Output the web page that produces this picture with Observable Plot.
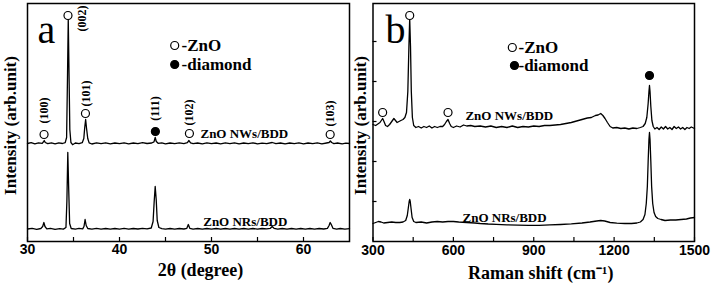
<!DOCTYPE html>
<html>
<head>
<meta charset="utf-8">
<script src="https://cdn.jsdelivr.net/npm/d3@7"></script>
<script src="https://cdn.jsdelivr.net/npm/@observablehq/plot@0.6"></script>
<style>
  html, body { margin: 0; padding: 0; background: white; }
  #wrap { position: relative; width: 711px; height: 284px; overflow: hidden; }
</style>
</head>
<body>
<div id="wrap"></div>
<script>
// ---------- Panel a: XRD (2θ in degree, intensity in arb. units) ----------
const xrdNWs = [
[30.0,98],[30.4,98.8],[30.8,97.6],[31.2,98.6],[31.6,98.2],[31.72,99.5],[31.82,101],[31.93,99],[32.2,97.8],[32.6,98.7],[33.0,97.7],[33.4,98.6],[33.8,98],[34.1,98.8],[34.25,104],[34.34,160],[34.43,223],[34.51,170],[34.6,112],[34.72,99],[34.9,96.8],[35.2,98.5],[35.6,97.8],[35.95,98.8],[36.12,103],[36.22,114],[36.32,122],[36.42,113],[36.55,103],[36.7,98.6],[37.0,97.5],[37.5,98.6],[38.0,97.9],[38.5,98.7],[39.0,97.7],[39.5,98.5],[40.0,97.9],[40.5,98.7],[41.0,97.7],[41.5,98.5],[42.0,97.9],[42.5,98.8],[43.0,98],[43.5,98.5],[43.75,99.6],[43.88,104],[44.0,100],[44.2,98.2],[44.6,98.7],[45.0,97.7],[45.5,98.5],[46.0,97.9],[46.5,98.6],[47.0,97.9],[47.38,98.8],[47.55,101],[47.72,98.6],[48.0,97.9],[48.5,98.5],[49.0,97.7],[49.5,98.6],[50.0,97.9],[50.5,98.5],[51.0,97.7],[51.5,98.6],[52.0,97.9],[52.5,98.7],[53.0,97.7],[53.5,98.5],[54.0,97.9],[54.5,98.7],[55.0,97.7],[55.5,98.4],[56.0,97.9],[56.6,99],[57.0,97.9],[57.5,98.5],[58.0,97.7],[58.5,98.5],[59.0,97.9],[59.5,98.6],[60.0,97.7],[60.5,98.5],[61.0,97.9],[61.5,98.6],[62.0,97.7],[62.5,98.5],[62.78,99],[62.92,100.5],[63.06,99],[63.3,97.9],[63.7,98.5],[64.2,97.7],[64.6,98.4],[65.0,98]
];
const xrdNRs = [
[30.0,12.5],[30.5,13.2],[31.0,12.2],[31.45,13],[31.65,15],[31.78,19],[31.9,15],[32.1,12.6],[32.5,13.2],[33.0,12.2],[33.5,12.9],[33.9,12.4],[34.18,14],[34.28,40],[34.38,89],[34.48,52],[34.58,18],[34.75,13],[35.2,12.4],[35.6,13.1],[36.0,12.6],[36.14,15],[36.26,22],[36.38,16],[36.55,13],[37.0,12.4],[37.5,13.1],[38.0,12.3],[38.5,13],[39.0,12.3],[39.5,13],[40.0,12.4],[40.5,13.1],[41.0,12.3],[41.5,13],[42.0,12.5],[42.5,13.1],[43.0,12.6],[43.45,13.5],[43.65,20],[43.77,40],[43.88,55],[43.99,42],[44.1,21],[44.28,14],[44.6,12.8],[45.0,12.3],[45.5,13],[46.0,12.4],[46.5,13],[47.0,12.5],[47.32,13.2],[47.48,17],[47.64,13.2],[48.0,12.4],[48.5,13],[49.0,12.3],[49.5,13],[50.0,12.4],[50.5,13],[51.0,12.3],[51.5,13],[52.0,12.4],[52.5,13],[53.0,12.3],[53.5,13],[54.0,12.4],[54.5,13],[55.0,12.3],[55.5,13],[56.0,12.6],[56.4,13.2],[56.6,15],[56.8,13.2],[57.2,12.4],[57.7,13],[58.2,12.3],[58.7,13],[59.2,12.4],[59.7,13],[60.2,12.3],[60.7,13],[61.2,12.4],[61.7,13],[62.2,12.5],[62.6,13.2],[62.78,16],[62.9,19],[63.02,17],[63.2,13.2],[63.6,12.4],[64.0,13],[64.5,12.3],[65.0,12.8]
];
// ZnO / diamond reflections marked above the NWs/BDD pattern
const xrdMarkX     = [31.8, 34.4, 36.3, 43.9, 47.6, 62.9];
const xrdMarkY     = [107, 226, 128, 110, 108, 107];
const xrdMarkKind  = ["ZnO", "ZnO", "ZnO", "diamond", "ZnO", "ZnO"];
const millerLabels = ["(100)", "(002)", "(101)", "(111)", "(102)", "(103)"];
const millerX      = [31.8, 35.9, 36.4, 43.9, 47.6, 62.9];
const millerY      = [131, 223, 148, 133, 129, 128];
const xTicksA      = [30, 35, 40, 45, 50, 55, 60];
const xLabelsA     = [30, 40, 50, 60];
const sampleNamesA = ["ZnO NWs/BDD", "ZnO NRs/BDD"];
const sampleXA     = [48.8, 49.1];
const sampleYA     = [108, 20];
const legendDotXA  = [46.0, 46.0];
const legendDotYA  = [196, 177];
const legendTextXA = 46.75;

// ---------- Panel b: Raman (cm-1, intensity in arb. units) ----------
const ramNWs = [
[300,117],[310,116],[318,117.5],[326,119],[331,121],[336,123],[341,120],[347,116],[354,115],[362,117],[370,120],[378,123],[384,121],[390,119],[397,120],[404,121],[412,122],[419,124],[425,129],[430,150],[434,195],[437,223],[440,195],[443,150],[447,124],[452,116],[460,114],[470,115],[480,113.5],[490,115],[500,114],[510,115.5],[520,113.5],[530,115],[540,114],[550,115],[560,115],[567,117],[574,120],[580,122],[586,118],[592,115],[600,114],[612,115.5],[625,114.5],[638,116.5],[650,115.5],[665,116],[680,115],[700,115.5],[720,114.5],[740,115.5],[760,114],[780,115],[800,114],[820,115.5],[840,114],[860,115],[880,114.5],[900,115.5],[920,115],[940,116],[960,116],[980,116.5],[1000,117],[1020,118],[1040,119],[1060,120.5],[1080,122],[1100,123.5],[1115,124],[1130,126],[1140,126.5],[1150,128],[1158,126],[1166,123],[1175,119],[1185,115],[1195,113.5],[1210,114],[1225,113],[1240,113.5],[1255,112.5],[1270,113.5],[1285,113],[1298,114],[1308,115],[1316,118],[1322,124],[1327,138],[1330,150],[1332,156],[1334,150],[1337,135],[1341,121],[1346,115],[1352,112.5],[1360,114],[1368,112],[1376,114.5],[1384,112.5],[1392,115],[1400,112.5],[1408,114],[1416,112],[1424,115],[1432,113],[1440,114.5],[1448,112.5],[1456,114],[1464,112],[1472,114],[1480,113],[1488,114.5],[1500,113]
];
const ramNRs = [
[300,18],[310,19],[320,20],[330,19.5],[340,18.5],[355,19],[370,19.5],[385,19],[400,19],[412,19.5],[422,21],[428,26],[432,34],[435,40],[437,42],[439,40],[442,33],[446,24],[452,20],[460,19],[480,19.5],[500,18.5],[520,19.5],[540,20],[560,19.5],[580,20],[600,20],[620,19.5],[650,19],[680,18.5],[700,18],[730,17.5],[760,17.2],[800,16.6],[840,16.4],[880,16.2],[920,16.2],[960,16.6],[1000,17],[1040,17.6],[1080,18.5],[1110,19.5],[1135,20.5],[1150,21],[1165,20.5],[1185,19],[1210,18.3],[1240,18],[1265,18],[1285,18.5],[1298,19.5],[1308,22],[1315,27],[1320,38],[1324,55],[1327,80],[1330,102],[1332,109],[1334,102],[1337,80],[1340,55],[1344,38],[1349,29],[1355,25],[1363,23],[1375,22],[1390,21],[1410,21.5],[1430,21.5],[1450,22],[1470,22.5],[1485,23.5],[1500,24]
];
const ramMarkX    = [336, 437, 580, 1332];
const ramMarkY    = [129, 226, 129, 166];
const ramMarkKind = ["ZnO", "ZnO", "ZnO", "diamond"];
const xTicksB     = [300, 450, 600, 750, 900, 1050, 1200, 1350, 1500];
const xLabelsB    = [300, 600, 900, 1200, 1500];
const yTicksB     = [40, 80, 120, 160, 200];
const sampleNamesB = ["ZnO NWs/BDD", "ZnO NRs/BDD"];
const sampleXB     = [645, 634];
const sampleYB     = [126, 24];
const legendDotXB  = [820, 828];
const legendDotYB  = [194, 176];
const legendTextXB = 843;

const legendLabels = ["-ZnO", "-diamond"];
const legendKinds  = ["ZnO", "diamond"];

// ---------- shared style ----------
const SERIF = "'Liberation Serif', 'Times New Roman', serif";
const SANS  = "'Liberation Sans', Arial, sans-serif";
const fillOf = k => k === "diamond" ? "black" : "white";

function panel({width, marginLeft, marginRight, domainX, lines, markX, markY, markKind,
                xTicks, xLabels, xTitle, titleSize, titleDx, titleDy, letter, letterDx,
                yLabelDx, samples, legend, extra = [], tickPad}) {
  const plotH = 284 - 3 - 43;
  return Plot.plot({
    width, height: 284, marginLeft, marginRight, marginTop: 3, marginBottom: 43,
    x: {domain: domainX, axis: null},
    y: {domain: [0, 238], axis: null},
    style: {background: "transparent", overflow: "visible", fontFamily: SERIF, fontWeight: "bold", color: "black"},
    marks: [
      ...lines.map(data => Plot.line(data, {x: d => d[0], y: d => d[1], stroke: "black", strokeWidth: 1.3})),
      Plot.dot(markX.map((x, i) => ({x, y: markY[i], k: markKind[i]})),
        {x: "x", y: "y", r: 4, stroke: "black", strokeWidth: 1.2, fill: d => fillOf(d.k)}),
      Plot.text(samples.names.map((t, i) => ({t, x: samples.x[i], y: samples.y[i]})),
        {x: "x", y: "y", text: "t", textAnchor: "start", fontSize: 13, fontWeight: "bold"}),
      Plot.dot(legend.dotX.map((x, i) => ({x, y: legend.dotY[i], k: legendKinds[i]})),
        {x: "x", y: "y", r: 4, stroke: "black", strokeWidth: 1.2, fill: d => fillOf(d.k)}),
      Plot.text(legendLabels.map((t, i) => ({t, y: legend.dotY[i]})),
        {x: () => legend.textX, y: "y", text: "t", textAnchor: "start", fontSize: 17, fontWeight: "bold"}),
      ...extra,
      Plot.text([letter], {frameAnchor: "top-left", dx: letterDx, dy: 39, lineAnchor: "bottom",
        textAnchor: "start", fontSize: 40, fontWeight: "normal"}),
      Plot.tickX(xTicks, {x: d => d, insetTop: plotH - 4, stroke: "black", strokeWidth: 1.2}),
      Plot.axisX({ticks: xLabels, tickSize: 0, tickPadding: tickPad, tickFormat: d => String(d),
        fontSize: 14, fontWeight: "bold", fontFamily: SANS, label: null}),
      Plot.text([xTitle], {frameAnchor: "bottom", dx: titleDx, dy: titleDy, lineAnchor: "bottom",
        fontSize: titleSize, fontWeight: "bold"}),
      Plot.text(["Intensity (arb.unit)"], {frameAnchor: "left", dx: yLabelDx, dy: 3, rotate: -90,
        textAnchor: "middle", lineAnchor: "middle", fontSize: 17, fontWeight: "bold"}),
      Plot.frame({stroke: "black", strokeWidth: 1.5})
    ]
  });
}

const plotA = panel({
  width: 352, marginLeft: 27, marginRight: 3, domainX: [30, 65],
  lines: [xrdNWs, xrdNRs], markX: xrdMarkX, markY: xrdMarkY, markKind: xrdMarkKind,
  xTicks: xTicksA, xLabels: xLabelsA, xTitle: "2θ (degree)", titleSize: 18, titleDx: 12, titleDy: 34,
  letter: "a", letterDx: 10, yLabelDx: -17, tickPad: 3,
  samples: {names: sampleNamesA, x: sampleXA, y: sampleYA},
  legend: {dotX: legendDotXA, dotY: legendDotYA, textX: legendTextXA},
  extra: [
    Plot.text(millerLabels.map((t, i) => ({t, x: millerX[i], y: millerY[i]})),
      {x: "x", y: "y", text: "t", rotate: -90, textAnchor: "middle", lineAnchor: "middle",
       fontSize: 12, fontWeight: "bold"})
  ]
});

const plotB = panel({
  width: 371, marginLeft: 32.5, marginRight: 17, domainX: [300, 1500],
  lines: [ramNWs, ramNRs], markX: ramMarkX, markY: ramMarkY, markKind: ramMarkKind,
  xTicks: xTicksB, xLabels: xLabelsB, xTitle: "Raman shift (cm\u207B\u00B9)", titleSize: 18, titleDx: 7, titleDy: 37,
  letter: "b", letterDx: 12.5, yLabelDx: -12.5, tickPad: 4,
  samples: {names: sampleNamesB, x: sampleXB, y: sampleYB},
  legend: {dotX: legendDotXB, dotY: legendDotYB, textX: legendTextXB},
  extra: [
    Plot.tickY(yTicksB, {y: d => d, insetRight: 321.5 - 4, stroke: "black", strokeWidth: 1.2})
  ]
});

const wrap = document.getElementById("wrap");
plotA.style.position = "absolute";
plotA.style.left = "0px";
plotA.style.top = "0px";
plotB.style.position = "absolute";
plotB.style.left = "340px";
plotB.style.top = "0px";
wrap.appendChild(plotA);
wrap.appendChild(plotB);
</script>
</body>
</html>
